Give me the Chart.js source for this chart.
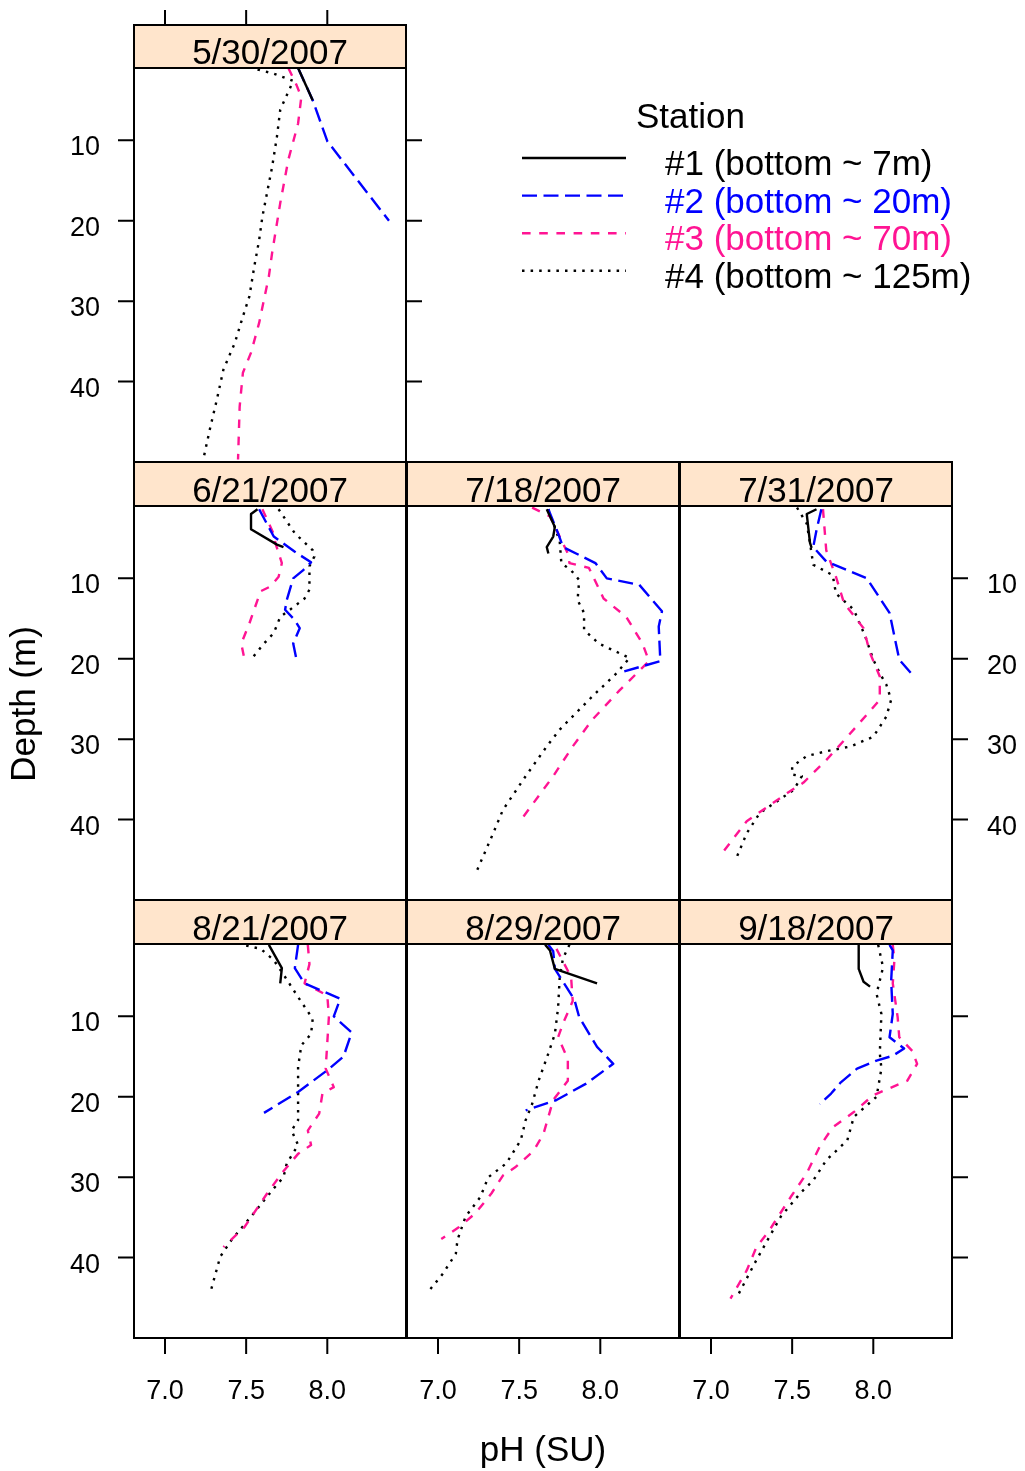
<!DOCTYPE html>
<html>
<head>
<meta charset="utf-8">
<script src="https://cdn.jsdelivr.net/npm/chart.js@4.4.0/dist/chart.umd.min.js"></script>
<style>
  html, body { margin:0; padding:0; background:#fff; }
  #wrap { position:relative; width:1025px; height:1471px; }
  #wrap canvas { position:absolute; left:0; top:0; }
</style>
</head>
<body>
<div id="wrap"></div>
<script>
/* ---------- data ---------- */
const stations = ['#1 (bottom ~ 7m)', '#2 (bottom ~ 20m)', '#3 (bottom ~ 70m)', '#4 (bottom ~ 125m)'];
const dates = ['5/30/2007', '6/21/2007', '7/18/2007', '7/31/2007', '8/21/2007', '8/29/2007', '9/18/2007'];
const phTicks = [7.0, 7.5, 8.0];
const depthTicks = [10, 20, 30, 40];

// each point: [pH, depth m]
const may30_st1 = [[7.82,1.0],[7.91,5.0]];
const may30_st2 = [[7.82,1.0],[7.91,5.0],[8.00,10.1],[8.38,20.0]];
const may30_st3 = [[7.76,1.0],[7.81,3.1],[7.84,4.6],[7.82,7.9],[7.76,12.4],[7.71,17.8],[7.66,24.0],[7.64,26.9],[7.58,32.7],[7.53,36.4],[7.48,38.9],[7.46,43.1],[7.45,49.7]];
const may30_st4 = [[7.57,1.2],[7.67,1.7],[7.79,2.6],[7.71,6.2],[7.69,9.5],[7.66,13.3],[7.63,16.4],[7.60,19.5],[7.58,22.4],[7.55,25.7],[7.52,29.4],[7.48,31.9],[7.43,35.2],[7.36,38.5],[7.32,42.2],[7.28,45.6],[7.24,49.3]];

const jun21_st1 = [[7.57,1.4],[7.53,2.0],[7.53,3.9],[7.69,5.8],[7.73,6.1]];
const jun21_st2 = [[7.58,1.4],[7.67,4.8],[7.80,6.7],[7.90,8.0],[7.85,9.0],[7.79,10.0],[7.75,12.7],[7.74,13.9],[7.80,15.2],[7.83,16.2],[7.79,18.1],[7.81,20.1]];
const jun21_st3 = [[7.60,1.4],[7.67,4.5],[7.68,5.6],[7.72,8.1],[7.70,9.8],[7.65,11.0],[7.59,11.6],[7.57,12.7],[7.52,15.6],[7.47,18.1],[7.49,20.1]];
const jun21_st4 = [[7.70,1.4],[7.80,4.4],[7.91,6.5],[7.92,7.3],[7.89,8.5],[7.89,11.4],[7.86,12.5],[7.77,13.9],[7.71,14.8],[7.67,16.8],[7.61,18.1],[7.53,20.1]];

const jul18_st1 = [[7.67,1.4],[7.72,3.6],[7.71,4.8],[7.67,6.1],[7.68,6.9]];
const jul18_st2 = [[7.68,1.4],[7.74,4.4],[7.77,6.1],[7.97,8.1],[8.04,10.0],[8.24,10.8],[8.38,14.1],[8.36,16.0],[8.37,20.3],[8.14,21.6]];
const jul18_st3 = [[7.58,1.2],[7.69,2.3],[7.74,4.4],[7.80,6.9],[7.81,8.1],[7.93,8.7],[8.02,12.5],[8.16,14.8],[8.26,18.1],[8.30,20.3],[8.12,23.9],[7.95,27.6],[7.83,30.9],[7.71,34.6],[7.52,39.8]];
const jul18_st4 = [[7.68,1.4],[7.75,5.4],[7.76,8.1],[7.82,9.0],[7.87,10.2],[7.86,12.7],[7.90,14.3],[7.90,16.4],[7.99,18.1],[8.18,19.9],[8.10,21.8],[7.95,24.7],[7.75,28.8],[7.67,30.9],[7.54,34.6],[7.40,38.8],[7.34,41.7],[7.23,46.8]];

const jul31_st1 = [[7.65,1.4],[7.59,2.0],[7.61,5.6],[7.62,6.2]];
const jul31_st2 = [[7.68,1.4],[7.65,4.0],[7.63,6.1],[7.71,7.9],[7.96,10.0],[8.10,14.3],[8.16,20.1],[8.25,22.2]];
const jul31_st3 = [[7.69,1.4],[7.71,6.5],[7.77,9.8],[7.82,13.1],[7.94,16.2],[7.98,19.3],[8.04,22.2],[8.04,25.1],[7.84,29.7],[7.71,32.6],[7.57,35.4],[7.47,36.7],[7.22,40.2],[7.06,44.4]];
const jul31_st4 = [[7.53,1.2],[7.59,3.2],[7.61,5.6],[7.63,8.3],[7.75,9.6],[7.77,11.9],[7.88,13.9],[7.95,17.2],[8.00,20.1],[8.04,21.8],[8.08,23.2],[8.11,25.1],[8.08,27.2],[8.00,29.7],[7.86,30.9],[7.71,31.5],[7.59,32.1],[7.50,33.4],[7.50,34.4],[7.56,34.6],[7.51,36.3],[7.30,39.2],[7.22,41.7],[7.16,44.6]];

const aug21_st1 = [[7.64,1.1],[7.72,4.0],[7.71,5.9]];
const aug21_st2 = [[7.82,1.1],[7.80,4.0],[7.86,5.9],[8.08,7.8],[8.04,10.0],[8.15,12.0],[8.10,15.0],[8.00,16.7],[7.82,19.4],[7.61,22.0]];
const aug21_st3 = [[7.88,1.1],[7.89,3.5],[7.86,5.9],[8.00,7.4],[8.01,10.0],[7.99,16.5],[8.04,18.8],[7.97,19.6],[7.95,22.1],[7.88,24.2],[7.90,26.0],[7.82,27.1],[7.72,29.5],[7.63,32.0],[7.49,36.2],[7.36,38.7]];
const aug21_st4 = [[7.50,1.2],[7.59,1.6],[7.67,3.0],[7.74,5.1],[7.82,7.6],[7.91,10.3],[7.90,12.2],[7.84,13.6],[7.82,16.3],[7.82,22.9],[7.78,24.2],[7.82,26.0],[7.75,28.3],[7.73,30.0],[7.67,31.4],[7.53,34.9],[7.41,37.8],[7.34,39.9],[7.28,44.3]];

const aug29_st1 = [[7.66,1.1],[7.69,1.8],[7.72,4.1],[7.98,5.9]];
const aug29_st2 = [[7.68,1.1],[7.71,1.9],[7.72,4.1],[7.84,7.9],[7.87,10.1],[7.98,13.8],[8.08,15.9],[7.91,18.4],[7.73,20.4],[7.54,21.7]];
const aug29_st3 = [[7.73,1.6],[7.82,5.1],[7.83,8.1],[7.77,10.9],[7.74,12.6],[7.80,15.3],[7.80,18.0],[7.71,20.4],[7.65,24.6],[7.59,26.7],[7.48,28.7],[7.40,29.8],[7.33,32.0],[7.23,34.5],[7.13,36.2],[7.02,37.7]];
const aug29_st4 = [[7.81,1.1],[7.77,2.8],[7.75,5.1],[7.74,8.9],[7.72,12.2],[7.68,14.6],[7.62,18.0],[7.58,20.9],[7.54,22.9],[7.51,25.4],[7.42,28.3],[7.31,30.0],[7.26,32.5],[7.17,34.9],[7.12,37.8],[7.11,39.5],[7.03,42.0],[6.93,44.5]];

const sep18_st1 = [[7.91,1.1],[7.91,4.1],[7.94,5.7],[7.98,6.3]];
const sep18_st2 = [[8.10,1.1],[8.12,1.8],[8.11,5.6],[8.12,9.7],[8.10,12.6],[8.19,14.0],[8.12,14.9],[8.02,15.5],[7.90,16.5],[7.80,18.2],[7.74,19.6],[7.67,20.9]];
const sep18_st3 = [[8.12,1.1],[8.13,3.0],[8.12,5.9],[8.15,10.1],[8.16,12.6],[8.24,14.3],[8.27,15.9],[8.21,18.0],[8.00,19.8],[7.88,21.9],[7.75,23.8],[7.67,26.2],[7.59,29.5],[7.49,32.5],[7.36,36.6],[7.28,38.7],[7.22,41.6],[7.12,45.1]];
const sep18_st4 = [[8.03,1.1],[8.06,3.9],[8.02,7.2],[8.05,9.7],[8.04,14.6],[8.05,16.5],[8.02,20.0],[7.88,22.5],[7.84,25.4],[7.71,27.9],[7.63,30.4],[7.55,32.0],[7.43,34.9],[7.36,37.4],[7.28,40.3],[7.16,44.9]];

/* ---------- styles / layout ---------- */
const W = 1025, H = 1471;
const FONT = '"Liberation Sans", Arial, Helvetica, sans-serif';
const lineColors = ['#000000', '#0000FF', '#FF1493', '#000000'];
const lineDashes = [[], [15, 6.5], [8.6, 8.6], [2.5, 6.1]];
const LW = 2.4;

const colLeft = [134, 407, 680];
const panelW = 272;
const stripTop = [25, 462, 900];
const panelTop = [68, 506, 944];
const panelH = 394;
const phMin = 7.0 - 31 / 162.3, phMax = phMin + panelW / 162.3;
const depthMin = 1, depthMax = 50;

const panels = [
  { date: dates[0], col: 0, row: 0, series: [may30_st1, may30_st2, may30_st3, may30_st4], left: 'labels', right: 'ticks', top: true, bottom: false },
  { date: dates[1], col: 0, row: 1, series: [jun21_st1, jun21_st2, jun21_st3, jun21_st4], left: 'labels', right: null, top: false, bottom: false },
  { date: dates[2], col: 1, row: 1, series: [jul18_st1, jul18_st2, jul18_st3, jul18_st4], left: null, right: null, top: false, bottom: false },
  { date: dates[3], col: 2, row: 1, series: [jul31_st1, jul31_st2, jul31_st3, jul31_st4], left: null, right: 'labels', top: false, bottom: false },
  { date: dates[4], col: 0, row: 2, series: [aug21_st1, aug21_st2, aug21_st3, aug21_st4], left: 'labels', right: null, top: false, bottom: true },
  { date: dates[5], col: 1, row: 2, series: [aug29_st1, aug29_st2, aug29_st3, aug29_st4], left: null, right: null, top: false, bottom: true },
  { date: dates[6], col: 2, row: 2, series: [sep18_st1, sep18_st2, sep18_st3, sep18_st4], left: null, right: 'ticks', top: false, bottom: true },
];

/* ---------- plugins ---------- */
const panelDecor = {
  id: 'panelDecor',
  afterDraw(chart, args, o) {
    const { ctx, chartArea: a, scales: { x, y } } = chart;
    const TL = 16;
    ctx.save();
    // strip
    ctx.fillStyle = '#FFE5CC';
    ctx.fillRect(a.left, o.stripTop, a.width, a.top - o.stripTop);
    ctx.strokeStyle = '#000';
    ctx.lineWidth = 2;
    ctx.strokeRect(a.left, o.stripTop, a.width, a.top - o.stripTop);
    ctx.strokeRect(a.left, a.top, a.width, a.height);
    ctx.fillStyle = '#000';
    ctx.font = '35px ' + FONT;
    ctx.textAlign = 'center';
    ctx.textBaseline = 'alphabetic';
    ctx.fillText(o.date, (a.left + a.right) / 2, a.top - 4);

    ctx.font = '27px ' + FONT;
    ctx.beginPath();
    depthTicks.forEach(v => {
      const py = y.getPixelForValue(v);
      if (o.left) { ctx.moveTo(a.left - TL, py); ctx.lineTo(a.left, py); }
      if (o.right) { ctx.moveTo(a.right, py); ctx.lineTo(a.right + TL, py); }
    });
    phTicks.forEach(v => {
      const px = x.getPixelForValue(v);
      if (o.top) { ctx.moveTo(px, o.stripTop - 15); ctx.lineTo(px, o.stripTop); }
      if (o.bottom) { ctx.moveTo(px, a.bottom); ctx.lineTo(px, a.bottom + TL); }
    });
    ctx.stroke();

    depthTicks.forEach(v => {
      const py = y.getPixelForValue(v) + 15;
      if (o.left === 'labels') { ctx.textAlign = 'right'; ctx.fillText(String(v), a.left - 34, py); }
      if (o.right === 'labels') { ctx.textAlign = 'left'; ctx.fillText(String(v), a.right + 35, py); }
    });
    if (o.bottom) {
      ctx.textAlign = 'center';
      phTicks.forEach(v => ctx.fillText(v.toFixed(1), x.getPixelForValue(v), a.bottom + 61));
    }
    ctx.restore();
  }
};

const pageText = {
  id: 'pageText',
  afterDraw(chart) {
    const ctx = chart.ctx;
    ctx.save();
    ctx.fillStyle = '#000';
    ctx.font = '35px ' + FONT;
    ctx.textAlign = 'left';
    ctx.textBaseline = 'alphabetic';
    ctx.fillText('Station', 636, 128);
    stations.forEach((s, i) => {
      const ly = 158 + i * 37.6;
      ctx.beginPath();
      ctx.setLineDash(lineDashes[i]);
      ctx.lineCap = 'butt';
      ctx.lineWidth = LW;
      ctx.strokeStyle = lineColors[i];
      ctx.moveTo(522, ly);
      ctx.lineTo(626, ly);
      ctx.stroke();
      ctx.fillStyle = lineColors[i];
      ctx.fillText(s, 665, ly + 17);
    });
    ctx.setLineDash([]);
    ctx.fillStyle = '#000';
    ctx.textAlign = 'center';
    ctx.fillText('pH (SU)', 543, 1461);
    ctx.translate(25, 704);
    ctx.rotate(-Math.PI / 2);
    ctx.textBaseline = 'middle';
    ctx.fillText('Depth (m)', 0, 0);
    ctx.restore();
  }
};

/* ---------- charts ---------- */
const wrap = document.getElementById('wrap');
panels.forEach((p, idx) => {
  const cv = document.createElement('canvas');
  cv.width = W; cv.height = H;
  cv.style.width = W + 'px'; cv.style.height = H + 'px';
  wrap.appendChild(cv);
  const L = colLeft[p.col], T = panelTop[p.row];
  new Chart(cv, {
    type: 'line',
    data: {
      datasets: p.series.map((arr, i) => ({
        label: stations[i],
        data: arr.map(d => ({ x: d[0], y: d[1] })),
        borderColor: lineColors[i],
        borderDash: lineDashes[i],
        borderWidth: LW,
        borderCapStyle: 'butt',
        borderJoinStyle: 'round',
        pointRadius: 0,
        fill: false,
        tension: 0
      }))
    },
    options: {
      responsive: false,
      animation: false,
      devicePixelRatio: 1,
      layout: { padding: { left: L, top: T, right: W - L - panelW, bottom: H - T - panelH } },
      scales: {
        x: { type: 'linear', min: phMin, max: phMax, display: false },
        y: { type: 'linear', min: depthMin, max: depthMax, reverse: true, display: false }
      },
      plugins: {
        legend: { display: false },
        tooltip: { enabled: false },
        panelDecor: { date: p.date, stripTop: stripTop[p.row], left: p.left, right: p.right, top: p.top, bottom: p.bottom }
      }
    },
    plugins: idx === 0 ? [panelDecor, pageText] : [panelDecor]
  });
});
</script>
</body>
</html>
